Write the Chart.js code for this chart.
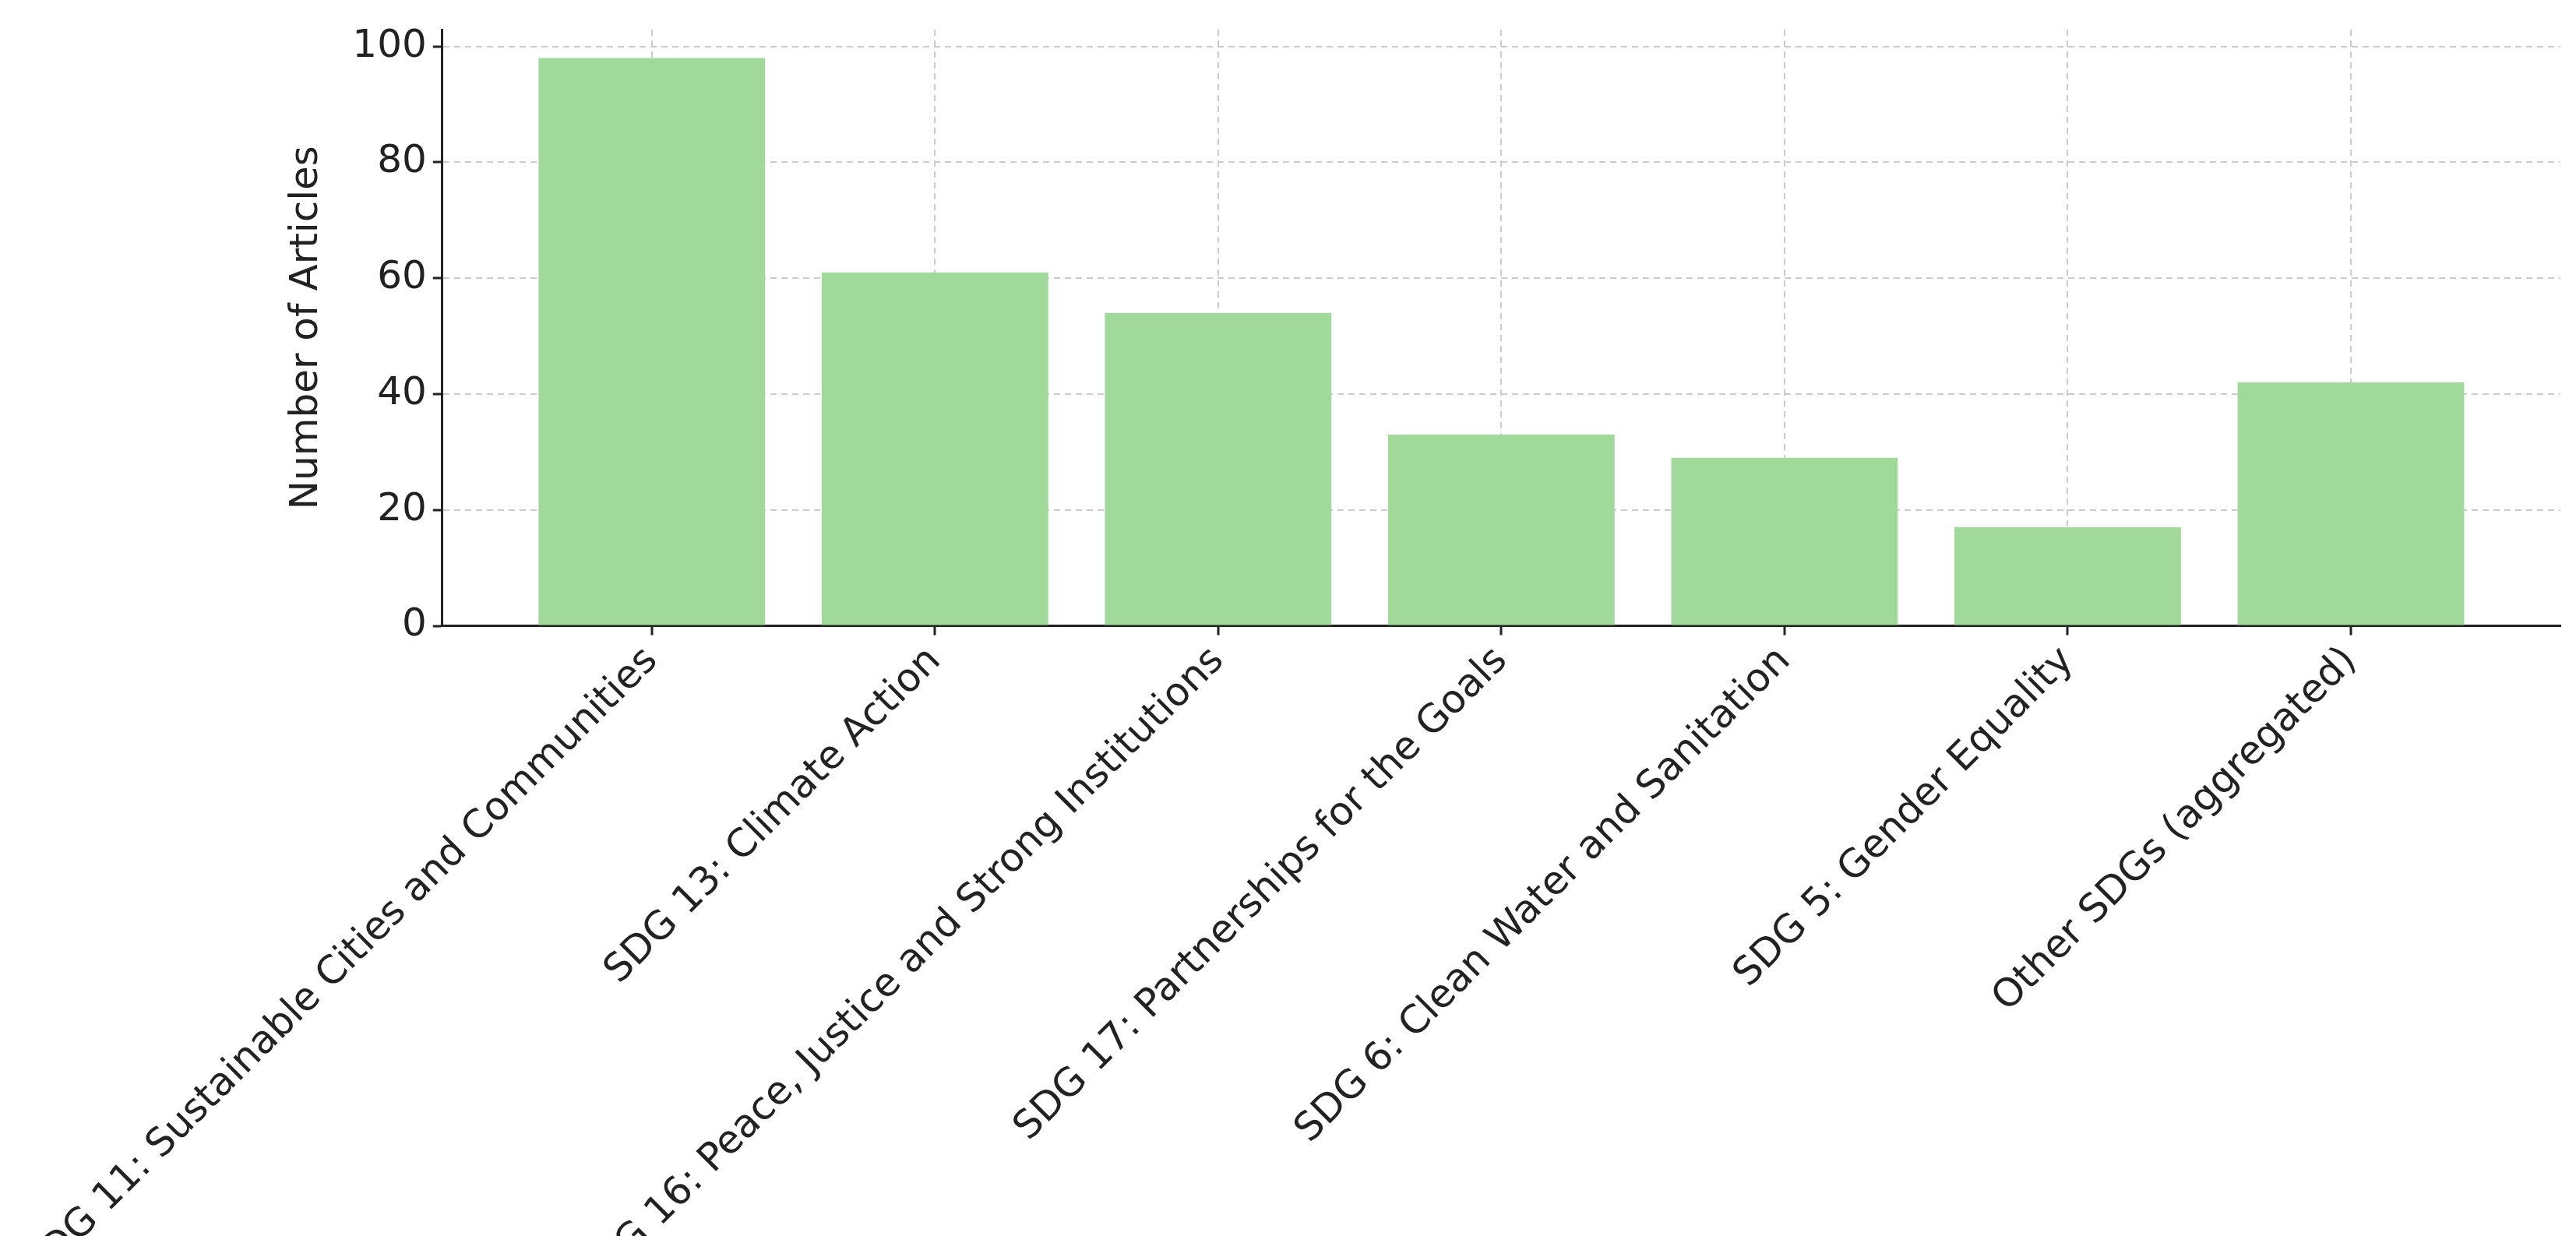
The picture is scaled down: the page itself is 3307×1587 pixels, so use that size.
<!DOCTYPE html>
<html>
<head>
<meta charset="utf-8">
<script src="https://cdn.jsdelivr.net/npm/chart.js@4"></script>
<style>
  html, body { margin: 0; padding: 0; background: #fff; }
  #wrap { width: 3307px; height: 1587px; }
</style>
</head>
<body>
<div id="wrap"><canvas id="sdgChart"></canvas></div>
<script>
// data
const categories = [
    "SDG 11: Sustainable Cities and Communities",
    "SDG 13: Climate Action",
    "SDG 16: Peace, Justice and Strong Institutions",
    "SDG 17: Partnerships for the Goals",
    "SDG 6: Clean Water and Sanitation",
    "SDG 5: Gender Equality",
    "Other SDGs (aggregated)"
];
const articleCounts = [98, 61, 54, 33, 29, 17, 42];
const yTicks = [0, 20, 40, 60, 80, 100];

window.onload = () => {

    const ctx = document.querySelector("#sdgChart");
    const font = { family: "DejaVu Sans", size: 50 };

    new Chart(ctx, {
        type: "bar",
        data: {
            datasets: [{
                label: "Number of Articles",
                data: categories.map((c, i) => ({ x: i, y: articleCounts[i] })),
                backgroundColor: "#a1d99b",
                borderWidth: 0,
                barPercentage: 0.8,
                categoryPercentage: 1.0
            }]
        },
        options: {
            responsive: true,
            maintainAspectRatio: false,
            animation: false,
            layout: { padding: { left: 170, right: 20, top: 20, bottom: 0 } },
            plugins: { legend: { display: false }, tooltip: { enabled: false } },
            scales: {
                x: {
                    type: "linear",
                    min: -0.74,
                    max: 6.74,
                    offset: false,
                    afterBuildTicks: axis => {
                        axis.ticks = categories.map((c, i) => ({ value: i }));
                    },
                    ticks: {
                        font: font,
                        color: "#222",
                        maxRotation: 45,
                        minRotation: 45,
                        autoSkip: false,
                        padding: 4,
                        callback: (v) => categories[v]
                    },
                    grid: {
                        offset: false,
                        color: "#cccccc",
                        lineWidth: 2,
                        tickColor: "#222",
                        tickLength: 12,
                        tickWidth: 3
                    },
                    border: { display: true, color: "#222", width: 3, dash: [8, 6] },
                },
                y: {
                    min: 0,
                    max: 102.9,
                    afterBuildTicks: axis => {
                        axis.ticks = yTicks.map(v => ({ value: v }));
                    },
                    ticks: { font: font, color: "#222", padding: 8 },
                    title: {
                        display: true,
                        text: "Number of Articles",
                        font: font,
                        color: "#222",
                        padding: { bottom: 20 }
                    },
                    grid: {
                        color: "#cccccc",
                        lineWidth: 2,
                        tickColor: "#222",
                        tickLength: 12,
                        tickWidth: 3
                    },
                    border: { display: true, color: "#222", width: 3, dash: [8, 6] }
                }
            }
        }
    });
}
</script>
</body>
</html>
